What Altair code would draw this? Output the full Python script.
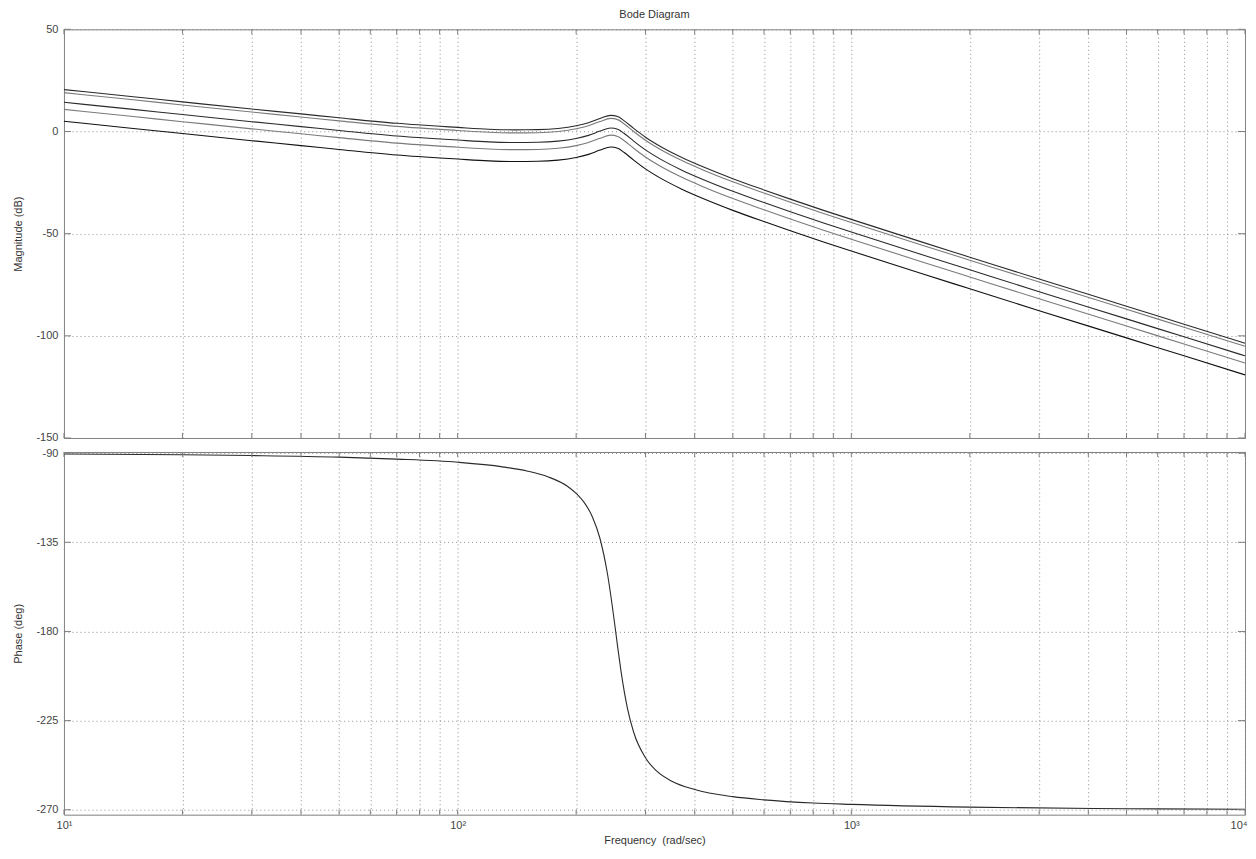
import altair as alt
import pandas as pd

# ---- data ----
freq = [10, 15, 20, 30, 40, 50, 70, 100, 120, 140, 160, 180, 200, 215, 230, 245, 255, 265,
        280, 300, 330, 370, 420, 500, 600, 700, 850, 1000, 1500, 2000, 3000, 5000, 7000, 10000]

mag_1 = [20.5, 17.0, 14.5, 11.0, 8.6, 6.7, 4.0, 2.0, 1.1, 0.8, 0.9, 1.5, 2.8, 4.3, 6.4, 7.9, 7.3, 5.2,
         1.5, -2.8, -7.7, -12.6, -17.3, -23.1, -28.6, -33.1, -38.6, -43.0, -53.9, -61.5, -72.2, -85.5, -94.3, -103.6]
mag_2 = [19.0, 15.5, 13.0, 9.5, 7.1, 5.2, 2.5, 0.5, -0.4, -0.7, -0.6, 0.0, 1.3, 2.8, 4.9, 6.4, 5.8, 3.7,
         0.0, -4.3, -9.2, -14.1, -18.8, -24.6, -30.1, -34.6, -40.1, -44.5, -55.4, -63.0, -73.7, -87.0, -95.8, -105.1]
mag_3 = [14.3, 10.8, 8.3, 4.8, 2.4, 0.5, -2.2, -4.2, -5.1, -5.4, -5.3, -4.7, -3.4, -1.9, 0.2, 1.7, 1.1, -1.0,
         -4.7, -9.0, -13.9, -18.8, -23.5, -29.3, -34.8, -39.3, -44.8, -49.2, -60.1, -67.7, -78.4, -91.7, -100.5, -109.8]
mag_4 = [10.8, 7.3, 4.8, 1.3, -1.1, -3.0, -5.7, -7.7, -8.6, -8.9, -8.8, -8.2, -6.9, -5.4, -3.3, -1.8, -2.4, -4.5,
         -8.2, -12.5, -17.4, -22.3, -27.0, -32.8, -38.3, -42.8, -48.3, -52.7, -63.6, -71.2, -81.9, -95.2, -104.0, -113.3]
mag_5 = [5.0, 1.5, -1.0, -4.5, -6.9, -8.8, -11.5, -13.5, -14.4, -14.7, -14.6, -14.0, -12.7, -11.2, -9.1, -7.6, -8.2, -10.3,
         -14.0, -18.3, -23.2, -28.1, -32.8, -38.6, -44.1, -48.6, -54.1, -58.5, -69.4, -77.0, -87.7, -101.0, -109.8, -119.1]

series_names = ["c1", "c2", "c3", "c4", "c5"]
series_colors = ["#2a2a2a", "#7a7a7a", "#2a2a2a", "#7a7a7a", "#111111"]

phase_freq = [10, 20, 30, 50, 70, 100, 130, 150, 170, 190, 200, 210, 220, 230, 240, 250, 255, 260,
              270, 280, 300, 320, 350, 400, 500, 600, 800, 1000, 2000, 5000, 10000]
phase_deg = [-90.4, -90.8, -91.2, -92.0, -93.0, -94.6, -96.9, -99.0, -102.0, -106.7, -110.3, -115.1,
             -122.2, -133.2, -150.5, -174.7, -187.9, -200.0, -218.8, -230.9, -243.8, -250.4, -255.6,
             -259.8, -263.4, -265.0, -266.6, -267.3, -268.7, -269.5, -269.75]

x_ticks = [10, 20, 30, 40, 50, 60, 70, 80, 90,
           100, 200, 300, 400, 500, 600, 700, 800, 900,
           1000, 2000, 3000, 4000, 5000, 6000, 7000, 8000, 9000, 10000]
mag_ticks = [-150, -100, -50, 0, 50]
phase_ticks = [-270, -225, -180, -135, -90]

# ---- tables ----
mag_rows = []
for name, vals in zip(series_names, [mag_1, mag_2, mag_3, mag_4, mag_5]):
    for f, v in zip(freq, vals):
        mag_rows.append({"freq": f, "mag": v, "series": name})
mag_df = pd.DataFrame(mag_rows)
phase_df = pd.DataFrame({"freq": phase_freq, "phase": phase_deg})
xtick_df = pd.DataFrame({"freq": x_ticks})
magtick_df = pd.DataFrame({"mag": mag_ticks})
phasetick_df = pd.DataFrame({"phase": phase_ticks})

W = 1182
H1 = 409
H2 = 363
GRID = "#8f8f8f"
FRAME = "#808080"
FONT = "Liberation Sans"

x_scale = alt.Scale(type="log", domain=[10, 10000], nice=False)
mag_scale = alt.Scale(domain=[-150, 50], nice=False, zero=False)
phase_scale = alt.Scale(domain=[-272.5, -89.4], nice=False, zero=False)

label_expr = ("datum.value == 10 ? '10\u00b9' : datum.value == 100 ? '10\u00b2' : "
              "datum.value == 1000 ? '10\u00b3' : datum.value == 10000 ? '10\u2074' : ''")

common = dict(grid=True, gridDash=[1, 3], gridColor=GRID, gridWidth=1, ticks=False, domain=False,
              labelFont=FONT, labelFontSize=11, labelColor="#444444",
              titleFont=FONT, titleFontSize=11, titleFontWeight="normal", titleColor="#333333")

x_axis_top = alt.Axis(values=x_ticks, labels=False, title=None, minExtent=0, maxExtent=0, **common)
x_axis_bottom = alt.Axis(
    values=x_ticks, labelExpr=label_expr, labelFlush=False, labelPadding=5,
    labelAlign={"condition": {"test": "datum.value >= 10000", "value": "right"}, "value": "center"},
    labelOffset={"condition": {"test": "datum.value >= 10000", "value": 2}, "value": 0},
    title="Frequency \u00a0(rad/sec)", titlePadding=4, **common)
mag_axis = alt.Axis(values=mag_ticks, labelExpr="'' + datum.value", title="Magnitude (dB)",
                    labelPadding=6, titlePadding=12, **common)
phase_axis = alt.Axis(values=phase_ticks, labelExpr="'' + datum.value", title="Phase (deg)",
                      labelPadding=6, titlePadding=12, **common)


def frame_ticks(height, yfield, yscale, yaxis, xaxis, yvals_df):
    xb = alt.Chart(xtick_df).mark_rule(color=FRAME, strokeWidth=1).encode(
        x=alt.X("freq:Q", scale=x_scale, axis=xaxis),
        y=alt.value(height), y2=alt.value(height - 5))
    xt = alt.Chart(xtick_df).mark_rule(color=FRAME, strokeWidth=1).encode(
        x=alt.X("freq:Q", scale=x_scale, axis=xaxis),
        y=alt.value(0), y2=alt.value(5))
    yl = alt.Chart(yvals_df).mark_rule(color=FRAME, strokeWidth=1).encode(
        y=alt.Y(f"{yfield}:Q", scale=yscale, axis=yaxis),
        x=alt.value(0), x2=alt.value(7))
    yr = alt.Chart(yvals_df).mark_rule(color=FRAME, strokeWidth=1).encode(
        y=alt.Y(f"{yfield}:Q", scale=yscale, axis=yaxis),
        x=alt.value(W), x2=alt.value(W - 7))
    return [xb, xt, yl, yr]


mag_lines = alt.Chart(mag_df).mark_line(strokeWidth=1.1, interpolate="monotone").encode(
    x=alt.X("freq:Q", scale=x_scale, axis=x_axis_top),
    y=alt.Y("mag:Q", scale=mag_scale, axis=mag_axis),
    color=alt.Color("series:N", scale=alt.Scale(domain=series_names, range=series_colors), legend=None),
)

top = alt.layer(mag_lines, *frame_ticks(H1, "mag", mag_scale, mag_axis, x_axis_top, magtick_df)
                ).properties(width=W, height=H1)

phase_line = alt.Chart(phase_df).mark_line(strokeWidth=1.1, color="#2a2a2a", interpolate="monotone").encode(
    x=alt.X("freq:Q", scale=x_scale, axis=x_axis_bottom),
    y=alt.Y("phase:Q", scale=phase_scale, axis=phase_axis),
)

bottom = alt.layer(phase_line, *frame_ticks(H2, "phase", phase_scale, phase_axis, x_axis_bottom, phasetick_df)
                   ).properties(width=W, height=H2)

chart = alt.vconcat(top, bottom, spacing=14, bounds="flush").properties(
    title=alt.TitleParams("Bode Diagram", fontSize=11, fontWeight="normal", font=FONT,
                          color="#333333", offset=3, anchor="middle", frame="group"),
    padding={"left": 4, "top": 0, "right": 0, "bottom": 0},
).configure_view(
    stroke=FRAME, strokeWidth=1
)

chart.save("out.html", embed_options={"renderer": "svg", "actions": False})
